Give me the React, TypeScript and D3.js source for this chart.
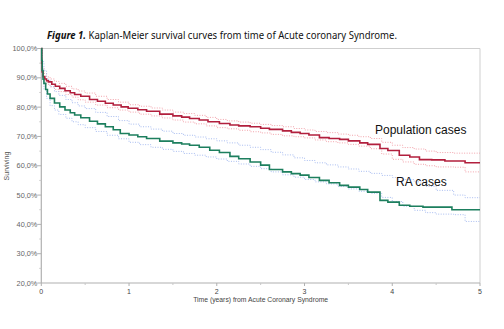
import React from "react";
import * as d3 from "d3";

const popTimes = [0, 0.005, 0.01, 0.02, 0.04, 0.06, 0.08, 0.12, 0.16, 0.21, 0.27, 0.33, 0.38, 0.45, 0.55, 0.64, 0.73, 0.82, 0.91, 0.99, 1.1, 1.2, 1.35, 1.5, 1.6, 1.69, 1.8, 1.9, 2.03, 2.15, 2.25, 2.38, 2.5, 2.6, 2.75, 2.85, 2.95, 3.05, 3.17, 3.28, 3.4, 3.5, 3.63, 3.72, 3.86, 3.95, 4.08, 4.2, 4.31, 4.45, 4.6, 4.83, 5];
const popSurv = [100, 95, 92, 90.4, 89.6, 89.0, 88.6, 87.8, 87.1, 86.4, 85.6, 84.9, 84.3, 83.7, 82.6, 82.0, 81.3, 80.7, 80.1, 79.6, 79.1, 78.6, 77.6, 77.0, 76.6, 76.1, 75.6, 75.0, 74.4, 73.9, 73.6, 73.3, 72.8, 72.4, 71.9, 71.4, 71.0, 70.5, 69.6, 69.3, 69.0, 68.5, 67.8, 67.3, 65.9, 65.2, 63.6, 63.0, 62.1, 62.0, 61.6, 61.0, 61.0];

const ciTimes = [0, 0.01, 0.03, 0.06, 0.1, 0.15, 0.2, 0.28, 0.35, 0.42, 0.5, 0.62, 0.75, 0.88, 1.0, 1.12, 1.25, 1.38, 1.5, 1.62, 1.75, 1.88, 2.0, 2.12, 2.25, 2.38, 2.5, 2.62, 2.75, 2.88, 3.0, 3.12, 3.25, 3.38, 3.5, 3.62, 3.75, 3.88, 4.0, 4.12, 4.25, 4.38, 4.5, 4.7, 4.83, 5];
const popUpper = [100, 93.5, 91.5, 90.3, 89.6, 88.8, 88.1, 87.1, 86.2, 85.5, 84.8, 83.7, 82.6, 81.7, 80.8, 80.3, 79.7, 79.0, 78.3, 77.8, 77.2, 76.5, 75.8, 75.3, 74.9, 74.5, 74.1, 73.7, 73.3, 72.7, 72.2, 71.7, 71.3, 70.8, 70.4, 69.9, 69.3, 68.0, 67.0, 66.2, 65.7, 65.0, 64.5, 64.3, 64.3, 64.3];
const popLower = [100, 91.0, 89.0, 87.8, 86.9, 86.0, 85.3, 84.3, 83.4, 82.5, 81.7, 80.7, 79.8, 79.0, 78.3, 77.6, 77.0, 76.3, 75.6, 74.9, 74.3, 73.6, 73.0, 72.6, 72.1, 71.6, 71.2, 70.7, 70.2, 69.9, 69.5, 68.8, 68.2, 67.8, 67.3, 66.7, 65.8, 64.0, 62.2, 61.3, 60.5, 60.0, 59.6, 59.5, 57.9, 57.9];

const raTimes = [0, 0.005, 0.01, 0.02, 0.03, 0.05, 0.07, 0.1, 0.15, 0.21, 0.27, 0.33, 0.38, 0.45, 0.55, 0.64, 0.73, 0.82, 0.9, 1.0, 1.1, 1.2, 1.35, 1.5, 1.6, 1.69, 1.8, 1.92, 2.03, 2.15, 2.25, 2.38, 2.5, 2.6, 2.75, 2.85, 2.95, 3.05, 3.17, 3.28, 3.4, 3.5, 3.63, 3.72, 3.86, 3.95, 4.08, 4.2, 4.35, 4.68, 5];
const raSurv = [100, 96, 92.5, 89.5, 88.1, 86, 84.5, 83, 81.4, 80.1, 79.0, 78.1, 77.3, 76.4, 75.2, 74.3, 73.3, 72.3, 71.0, 70.5, 69.9, 69.3, 68.4, 67.8, 67.4, 67.0, 66.3, 65.3, 64.5, 63.2, 62.4, 61.3, 60.2, 58.7, 57.9, 57.3, 56.8, 56.0, 55.0, 54.2, 53.3, 52.7, 51.9, 51.0, 48.2, 47.6, 46.5, 46.2, 45.9, 45.0, 45.0];
const raUpper = [100, 95.5, 92.5, 89.5, 87.0, 85.3, 84.0, 82.6, 81.5, 80.4, 79.5, 78.2, 76.8, 75.4, 74.2, 73.3, 72.5, 71.8, 71.0, 70.4, 69.8, 69.2, 68.5, 67.8, 67.0, 66.3, 65.5, 64.6, 63.7, 62.7, 61.8, 61.0, 60.3, 59.6, 58.9, 58.1, 57.4, 56.7, 56.0, 55.3, 54.5, 53.0, 51.6, 50.0, 49.1, 49.1];
const raLower = [100, 89.5, 86.0, 83.0, 80.5, 79.0, 77.5, 76.2, 75.0, 74.0, 73.0, 71.7, 70.4, 69.2, 68.0, 67.2, 66.3, 65.6, 64.9, 64.2, 63.6, 63.0, 62.3, 61.5, 60.6, 59.8, 59.0, 57.9, 56.9, 56.1, 55.3, 54.5, 53.8, 52.9, 52.1, 51.3, 50.6, 49.2, 47.8, 46.2, 44.8, 44.0, 43.5, 43.3, 41.0, 41.0];

const yTickLabels = ["20,0%", "30,0%", "40,0%", "50,0%", "60,0%", "70,0%", "80,0%", "90,0%", "100,0%"];
const xTickLabels = ["0", "1", "2", "3", "4", "5"];

const W = 504, H = 329;
const left = 41.3, right = 480, top = 48.5, bottom = 283;

export default function App() {
  const x = d3.scaleLinear().domain([0, 5]).range([left, right]);
  const y = d3.scaleLinear().domain([20, 100]).range([bottom, top]);
  const mk = (ts: number[], vs: number[]) =>
    d3.line<number>().x((_, i) => x(ts[i])).y((v) => y(v)).curve(d3.curveStepAfter)(vs) || "";

  const yMajor = d3.range(20, 101, 10);
  const yMinor = d3.range(25, 100, 10);
  const xMajor = d3.range(0, 6, 1);
  const xMinor = d3.range(0.5, 5, 1);
  const tickFont = "'Liberation Sans', Arial, sans-serif";
  const tickColor = "#666";

  return (
    <svg width={W} height={H} style={{ position: "absolute", left: 0, top: 0, background: "#fff" }}>
      <text x={47} y={39} fontFamily="'Noto Sans', sans-serif" fontSize={10.6} fill="#111" textLength={350} lengthAdjust="spacingAndGlyphs">
        <tspan fontWeight="bold" fontStyle="italic">Figure 1.</tspan>
        <tspan> Kaplan-Meier survival curves from time of Acute coronary Syndrome.</tspan>
      </text>
      {/* frame */}
      <line x1={left} x2={right} y1={top} y2={top} stroke="#cfcfcf" strokeWidth={1} />
      <line x1={right} x2={right} y1={top} y2={bottom} stroke="#cfcfcf" strokeWidth={1} />
      {/* y axis */}
      <line x1={left} x2={left} y1={top} y2={bottom} stroke="#b0b0b0" strokeWidth={1.2} />
      {yMajor.map((v) => (
        <line key={"ym" + v} x1={left - 4} x2={left} y1={y(v)} y2={y(v)} stroke="#b0b0b0" />
      ))}
      {yMinor.map((v) => (
        <line key={"yn" + v} x1={left - 2} x2={left} y1={y(v)} y2={y(v)} stroke="#c8c8c8" />
      ))}
      {yMajor.map((v, i) => (
        <text key={"yl" + v} x={left - 4} y={y(v) + 2.5} textAnchor="end" fontFamily={tickFont} fontSize={7.3} fill={tickColor}>
          {yTickLabels[i]}
        </text>
      ))}
      {/* x axis */}
      <line x1={left} x2={right} y1={bottom} y2={bottom} stroke="#b0b0b0" strokeWidth={1.2} />
      {xMajor.map((v) => (
        <line key={"xm" + v} x1={x(v)} x2={x(v)} y1={bottom} y2={bottom + 3} stroke="#b0b0b0" />
      ))}
      {xMinor.map((v) => (
        <line key={"xn" + v} x1={x(v)} x2={x(v)} y1={bottom} y2={bottom + 2} stroke="#c8c8c8" />
      ))}
      {xMajor.map((v, i) => (
        <text key={"xl" + v} x={x(v)} y={bottom + 11} textAnchor="middle" fontFamily={tickFont} fontSize={7} fill="#444">
          {xTickLabels[i]}
        </text>
      ))}
      <text x={(left + right) / 2} y={bottom + 18.5} textAnchor="middle" fontFamily={tickFont} fontSize={6.8} fill="#444">
        Time (years) from Acute Coronary Syndrome
      </text>
      <text transform={`translate(${9},${166}) rotate(-90)`} textAnchor="middle" fontFamily={tickFont} fontSize={7} fill="#555">
        Surviving
      </text>
      {/* CI bands */}
      <path d={mk(ciTimes, popUpper)} fill="none" stroke="#f2a3ab" strokeWidth={1} strokeDasharray="1,1.5" />
      <path d={mk(ciTimes, popLower)} fill="none" stroke="#f2a3ab" strokeWidth={1} strokeDasharray="1,1.5" />
      <path d={mk(ciTimes, raUpper)} fill="none" stroke="#a9bdf0" strokeWidth={1} strokeDasharray="1,1.5" />
      <path d={mk(ciTimes, raLower)} fill="none" stroke="#a9bdf0" strokeWidth={1} strokeDasharray="1,1.5" />
      {/* curves */}
      <path d={mk(popTimes, popSurv)} fill="none" stroke="#b21f3d" strokeWidth={1.6} />
      <path d={mk(raTimes, raSurv)} fill="none" stroke="#1d7f5e" strokeWidth={1.6} />
      <text x={375} y={134} fontFamily={tickFont} fontSize={12} fill="#111">Population cases</text>
      <text x={396} y={186} fontFamily={tickFont} fontSize={12} fill="#111">RA cases</text>
    </svg>
  );
}
